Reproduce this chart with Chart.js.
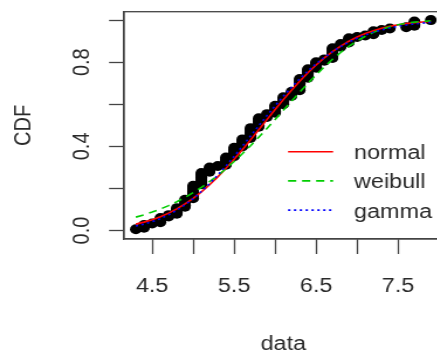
<!DOCTYPE html>
<html><head><meta charset="utf-8">
<script src="https://cdn.jsdelivr.net/npm/chart.js@4/dist/chart.umd.min.js"></script>
<style>
html,body{margin:0;padding:0;width:437px;height:353px;overflow:hidden;background:#fff;}
#wrap{width:385px;height:360px;transform:scaleX(1.17);transform-origin:0 0;}
canvas{display:block;}
</style></head><body>
<div id="wrap"><canvas id="c" width="385" height="360"></canvas></div>
<script>
// ---- data ----
const sampleValues = [4.3,4.4,4.5,4.6,4.7,4.8,4.9,5.0,5.1,5.2,5.3,5.4,5.5,5.6,5.7,5.8,5.9,6.0,6.1,6.2,6.3,6.4,6.5,6.6,6.7,6.8,6.9,7.0,7.1,7.2,7.3,7.4,7.6,7.7,7.9];
const sampleCounts = [1,3,1,4,2,5,6,10,9,4,1,6,7,6,8,7,3,6,6,4,9,7,5,2,8,3,4,1,1,3,1,1,1,4,1];
const fitX = [4.3,4.4,4.5,4.6,4.7,4.8,4.9,5.0,5.1,5.2,5.3,5.4,5.5,5.6,5.7,5.8,5.9,6.0,6.1,6.2,6.3,6.4,6.5,6.6,6.7,6.8,6.9,7.0,7.1,7.2,7.3,7.4,7.5,7.6,7.7,7.8,7.9];
const normalCdf = [0.0307,0.0402,0.0518,0.0660,0.0830,0.1031,0.1265,0.1534,0.1839,0.2178,0.2552,0.2956,0.3387,0.3841,0.4311,0.4791,0.5274,0.5753,0.6221,0.6672,0.7100,0.7500,0.7869,0.8204,0.8504,0.8768,0.8998,0.9195,0.9361,0.9499,0.9612,0.9704,0.9776,0.9834,0.9878,0.9911,0.9936];
const weibullCdf = [0.0639,0.0751,0.0879,0.1023,0.1187,0.1370,0.1574,0.1800,0.2050,0.2322,0.2619,0.2939,0.3283,0.3649,0.4034,0.4437,0.4854,0.5281,0.5715,0.6149,0.6578,0.6997,0.7400,0.7782,0.8138,0.8463,0.8754,0.9011,0.9232,0.9417,0.9569,0.9689,0.9783,0.9853,0.9903,0.9939,0.9963];
const gammaCdf = [0.0219,0.0308,0.0424,0.0570,0.0750,0.0968,0.1224,0.1520,0.1856,0.2229,0.2635,0.3071,0.3530,0.4006,0.4491,0.4978,0.5460,0.5930,0.6381,0.6811,0.7212,0.7583,0.7923,0.8229,0.8503,0.8745,0.8955,0.9138,0.9294,0.9426,0.9537,0.9630,0.9706,0.9768,0.9818,0.9858,0.9891];
const seriesLabels = ['normal','weibull','gamma'];
const xTickValues = [4.5,5.0,5.5,6.0,6.5,7.0,7.5];
const xTickLabels = ['4.5','','5.5','','6.5','','7.5'];
const yTickValues = [0,0.2,0.4,0.6,0.8,1.0];
const yTickLabels = ['0.0','','0.4','','0.8',''];
const xTitle = 'data';
const yTitle = 'CDF';

// ---- style ----
const FONT = "'Liberation Sans', Arial, sans-serif";
const TEXT = '#2a2a2a';
const AXIS = '#444';
const seriesColors = ['#FF0000', '#00CD00', '#0000FF'];
const seriesDash = [[], [7, 5], [2, 3]];

// derived
const total = sampleCounts.reduce((a, b) => a + b, 0);
const ecdfPts = [];
let cum = 0;
sampleValues.forEach((v, i) => {
  for (let k = 0; k < sampleCounts[i]; k++) { cum++; ecdfPts.push({x: v, y: cum / total}); }
});
const xr = [Math.min(...sampleValues), Math.max(...sampleValues)];
const xPad = 0.04 * (xr[1] - xr[0]);
const fits = [normalCdf, weibullCdf, gammaCdf];

const lineSets = fits.map((arr, i) => ({
  label: seriesLabels[i],
  data: fitX.map((x, j) => ({x, y: arr[j]})),
  showLine: true,
  borderColor: seriesColors[i],
  backgroundColor: seriesColors[i],
  borderDash: seriesDash[i],
  borderWidth: 1.6,
  pointRadius: 0,
  tension: 0,
  order: 3 - i,
  isFit: true
}));

const boxPlugin = {
  id: 'rbox',
  afterDatasetsDraw(chart) {
    const {ctx, chartArea: a} = chart;
    ctx.save();
    ctx.strokeStyle = AXIS; ctx.lineWidth = 1.3;
    ctx.strokeRect(a.left, a.top, a.right - a.left, a.bottom - a.top);
    ctx.restore();
  }
};
const legendPlugin = {
  id: 'rlegend',
  afterDraw(chart) {
    const ctx = chart.ctx;
    const x0 = 246.2, len = 38.5, tx = 302.6, y0 = 151.7, step = 29.2;
    ctx.save();
    chart.data.datasets.filter(d => d.isFit).forEach((d, i) => {
      const y = y0 + i * step;
      ctx.strokeStyle = d.borderColor; ctx.lineWidth = d.borderWidth;
      ctx.setLineDash(d.borderDash);
      ctx.beginPath(); ctx.moveTo(x0, y); ctx.lineTo(x0 + len, y); ctx.stroke();
      ctx.setLineDash([]);
      ctx.fillStyle = TEXT; ctx.font = '20px ' + FONT;
      ctx.textBaseline = 'middle'; ctx.textAlign = 'left';
      ctx.fillText(d.label, tx, y + 2);
    });
    ctx.restore();
  }
};

new Chart(document.getElementById('c'), {
  type: 'scatter',
  data: {
    datasets: [...lineSets, {
      label: 'data',
      data: ecdfPts,
      showLine: false,
      pointRadius: 5,
      pointBorderWidth: 0,
      pointBackgroundColor: '#000',
      pointBorderColor: '#000',
      order: 10
    }]
  },
  options: {
    responsive: false,
    devicePixelRatio: 1,
    animation: false,
    events: [],
    layout: {padding: {top: 11.7, right: 6.7, left: 0, bottom: 0}},
    plugins: {legend: {display: false}, tooltip: {enabled: false}},
    scales: {
      x: {
        type: 'linear',
        min: xr[0] - xPad, max: xr[1] + xPad,
        afterBuildTicks: s => { s.ticks = xTickValues.map(v => ({value: v})); },
        afterFit: s => { s.height = 121; s.paddingLeft = 0; s.paddingRight = 0; },
        ticks: {
          autoSkip: false, maxRotation: 0, minRotation: 0, padding: 20.5,
          color: TEXT, font: {family: FONT, size: 20},
          callback: (v) => { const i = xTickValues.indexOf(v); return i >= 0 ? xTickLabels[i] : ''; }
        },
        grid: {drawOnChartArea: false, drawTicks: true, tickLength: 15, tickColor: AXIS, tickWidth: 1.3},
        border: {display: true, color: AXIS, width: 1.3},
        title: {display: true, text: xTitle, color: TEXT, font: {family: FONT, size: 20}, padding: {top: 0, bottom: 4}}
      },
      y: {
        type: 'linear',
        min: -0.04, max: 1.04,
        afterBuildTicks: s => { s.ticks = yTickValues.map(v => ({value: v})); },
        afterFit: s => { s.width = 106; s.paddingTop = 0; s.paddingBottom = 0; },
        ticks: {
          autoSkip: false, minRotation: 90, maxRotation: 90, crossAlign: 'center', padding: 9.3,
          color: TEXT, font: {family: FONT, size: 20},
          callback: (v) => { const i = yTickValues.findIndex(t => Math.abs(t - v) < 1e-9); return i >= 0 ? yTickLabels[i] : ''; }
        },
        grid: {drawOnChartArea: false, drawTicks: true, tickLength: 12.8, tickColor: AXIS, tickWidth: 1.3},
        border: {display: true, color: AXIS, width: 1.3},
        title: {display: true, text: yTitle, color: TEXT, font: {family: FONT, size: 20}, padding: {top: 8.5, bottom: 0}}
      }
    }
  },
  plugins: [boxPlugin, legendPlugin]
});
</script>
</body></html>
